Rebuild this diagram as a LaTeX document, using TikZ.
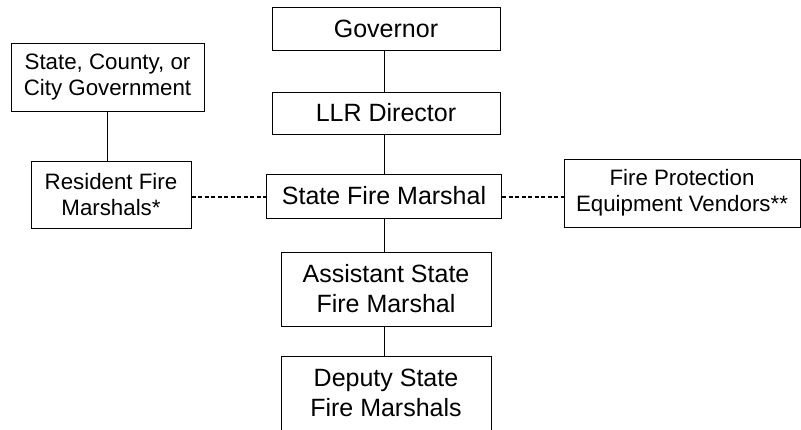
\documentclass[tikz,border=0pt]{standalone}
\usepackage{fontspec}
\setmainfont{Liberation Sans}

\tikzset{
  box/.style={draw, line width=1pt, align=center, inner sep=0pt,
    font=\fontsize{25}{30}\selectfont},
  sidebox/.style={box, font=\fontsize{22.3}{26}\selectfont},
  link/.style={line width=1pt},
  dotlink/.style={line width=1.2pt, dash pattern=on 4pt off 2.5pt}
}

\begin{document}
\begin{tikzpicture}[x=1pt, y=-1pt]
\useasboundingbox (0,0) rectangle (801,429);
\node[box, minimum width=228pt, minimum height=43pt] (gov) at (386,28.5) {Governor};
\node[box, minimum width=228pt, minimum height=42pt] (llr) at (386,113) {LLR Director};
\node[box, minimum width=235pt, minimum height=44pt] (sfm) at (384,196) {State Fire Marshal};
\node[box, minimum width=210pt, minimum height=74pt] (asfm) at (386,289) {Assistant State\\Fire Marshal};
\node[box, minimum width=210pt, minimum height=74pt] (dsfm) at (386,393) {Deputy State\\Fire Marshals};
\node[sidebox, minimum width=193pt, minimum height=68pt] (gvt) at (107.5,77) {State, County, or\\City Government};
\node[sidebox, minimum width=160pt, minimum height=67pt] (rfm) at (111,195) {Resident Fire\\Marshals*};
\node[sidebox, minimum width=236pt, minimum height=68pt] (fpev) at (682,193) {Fire Protection\\Equipment Vendors**};
\draw[link] (gov.south -| 384,0) -- (384,0 |- llr.north);
\draw[link] (llr.south -| 384,0) -- (384,0 |- sfm.north);
\draw[link] (sfm.south -| 384,0) -- (384,0 |- asfm.north);
\draw[link] (asfm.south -| 384,0) -- (384,0 |- dsfm.north);
\draw[link] (gvt.south -| 107,0) -- (107,0 |- rfm.north);
\draw[dotlink] (rfm.east |- 0,197) -- (sfm.west |- 0,197);
\draw[dotlink] (sfm.east |- 0,197) -- (fpev.west |- 0,197);
\end{tikzpicture}
\end{document}
